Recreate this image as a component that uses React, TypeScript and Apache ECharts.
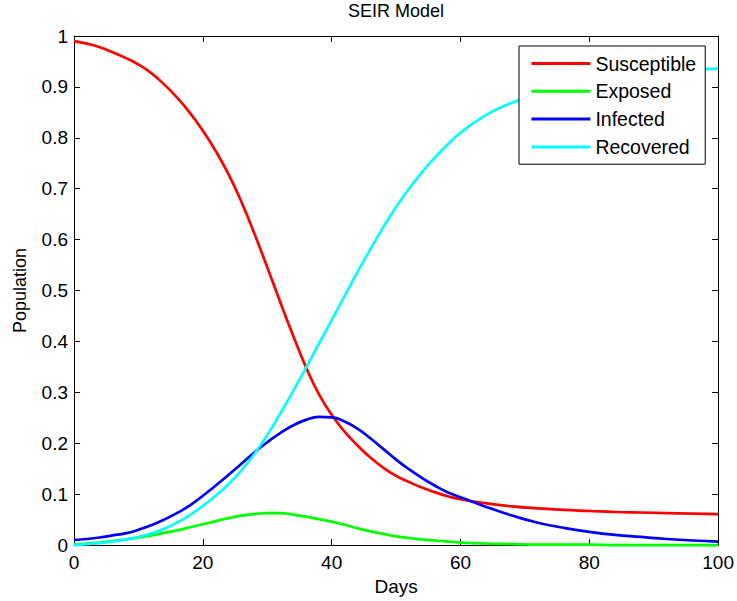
import React, { useEffect, useRef } from "react";
import * as echarts from "echarts";

const days = [0, 2, 4, 6, 8, 10, 12, 14, 16, 18, 20, 22, 24, 26, 28, 30, 32, 34, 36, 38, 40, 42, 44, 46, 48, 50, 52, 54, 56, 58, 60, 64, 68, 72, 76, 80, 84, 88, 92, 96, 100];
const susceptible = [0.99, 0.985, 0.978, 0.968, 0.957, 0.944, 0.927, 0.905, 0.879, 0.849, 0.814, 0.774, 0.728, 0.674, 0.612, 0.546, 0.478, 0.412, 0.35, 0.297, 0.256, 0.223, 0.196, 0.172, 0.152, 0.136, 0.124, 0.113, 0.104, 0.096, 0.09, 0.082, 0.076, 0.072, 0.069, 0.067, 0.065, 0.064, 0.063, 0.062, 0.061];
const exposed = [0.001, 0.003, 0.005, 0.008, 0.011, 0.015, 0.019, 0.024, 0.029, 0.035, 0.041, 0.047, 0.053, 0.058, 0.061, 0.063, 0.063, 0.06, 0.056, 0.051, 0.046, 0.04, 0.033, 0.027, 0.022, 0.017, 0.014, 0.011, 0.009, 0.007, 0.005, 0.003, 0.002, 0.001, 0.001, 0.001, 0.0, 0.0, 0.0, 0.0, 0.0];
const infected = [0.01, 0.012, 0.015, 0.019, 0.023, 0.03, 0.039, 0.05, 0.063, 0.078, 0.097, 0.117, 0.138, 0.16, 0.182, 0.202, 0.22, 0.235, 0.246, 0.252, 0.251, 0.243, 0.229, 0.21, 0.189, 0.168, 0.149, 0.132, 0.117, 0.104, 0.094, 0.075, 0.058, 0.044, 0.034, 0.026, 0.02, 0.016, 0.012, 0.009, 0.007];
const recovered = [0.0, 0.002, 0.004, 0.007, 0.011, 0.016, 0.023, 0.032, 0.044, 0.059, 0.077, 0.097, 0.12, 0.147, 0.179, 0.216, 0.258, 0.302, 0.348, 0.395, 0.442, 0.489, 0.536, 0.581, 0.624, 0.664, 0.7, 0.732, 0.761, 0.787, 0.81, 0.845, 0.869, 0.886, 0.899, 0.909, 0.918, 0.925, 0.93, 0.934, 0.936];

const seriesNames = ["Susceptible", "Exposed", "Infected", "Recovered"];
const seriesColors = ["#ff0000", "#00ff00", "#0000ff", "#00ffff"];
const seriesValues = [susceptible, exposed, infected, recovered];

const FONT = "'Liberation Sans', Arial, Helvetica, sans-serif";

export default function App() {
  const ref = useRef<HTMLDivElement>(null);
  useEffect(() => {
    if (!ref.current) return;
    const chart = echarts.init(ref.current, null, { renderer: "svg" });
    const axisCommon = {
      type: "value" as const,
      axisLine: { show: true, onZero: false, lineStyle: { color: "#000", width: 1 } },
      axisTick: { show: true, inside: true, length: 6, lineStyle: { color: "#000", width: 1 } },
      splitLine: { show: false },
    };
    chart.setOption({
      animation: false,
      backgroundColor: "#fff",
      title: {
        text: "SEIR Model",
        left: 396,
        top: 2,
        padding: 0,
        textAlign: "center",
        textStyle: { fontFamily: FONT, fontSize: 18, fontWeight: "normal", color: "#000" },
      },
      grid: { left: 74, right: 18, top: 36, bottom: 55.5, containLabel: false },
      legend: {
        data: seriesNames.map((n) => ({ name: n, icon: "rect" })),
        orient: "vertical",
        left: 519,
        top: 46,
        padding: [7.5, 9, 7.3, 12.4],
        itemWidth: 59,
        itemHeight: 3,
        itemGap: 7.8,
        backgroundColor: "#fff",
        borderColor: "#000",
        borderWidth: 1,
        borderRadius: 0,
        selectedMode: false,
        textStyle: { fontFamily: FONT, fontSize: 19.5, color: "#000", lineHeight: 20 },
      },
      xAxis: [
        {
          ...axisCommon,
          position: "bottom",
          min: 0,
          max: 100,
          interval: 20,
          name: "Days",
          nameLocation: "middle",
          nameGap: 30,
          nameTextStyle: { fontFamily: FONT, fontSize: 19, color: "#000" },
          axisLabel: { show: true, margin: 8, fontFamily: FONT, fontSize: 19, color: "#000" },
        },
        {
          ...axisCommon,
          position: "top",
          min: 0,
          max: 100,
          interval: 20,
          axisLabel: { show: false },
        },
      ],
      yAxis: [
        {
          ...axisCommon,
          position: "left",
          min: 0,
          max: 1,
          interval: 0.1,
          name: "Population",
          nameLocation: "middle",
          nameGap: 45,
          nameTextStyle: { fontFamily: FONT, fontSize: 18, color: "#000" },
          axisLabel: { show: true, margin: 6, fontFamily: FONT, fontSize: 19, color: "#000" },
        },
        {
          ...axisCommon,
          position: "right",
          min: 0,
          max: 1,
          interval: 0.1,
          axisLabel: { show: false },
        },
      ],
      series: seriesNames.map((name, i) => ({
        name,
        type: "line",
        xAxisIndex: 0,
        yAxisIndex: 0,
        data: days.map((d, j) => [d, seriesValues[i][j]]),
        smooth: 0.5,
        showSymbol: false,
        symbol: "none",
        clip: false,
        color: seriesColors[i],
        lineStyle: { color: seriesColors[i], width: 2.7 },
        z: 2 + i * 0.01,
      })),
    });
    return () => chart.dispose();
  }, []);
  return <div ref={ref} style={{ position: "absolute", left: 0, top: 0, width: 737, height: 601 }} />;
}
